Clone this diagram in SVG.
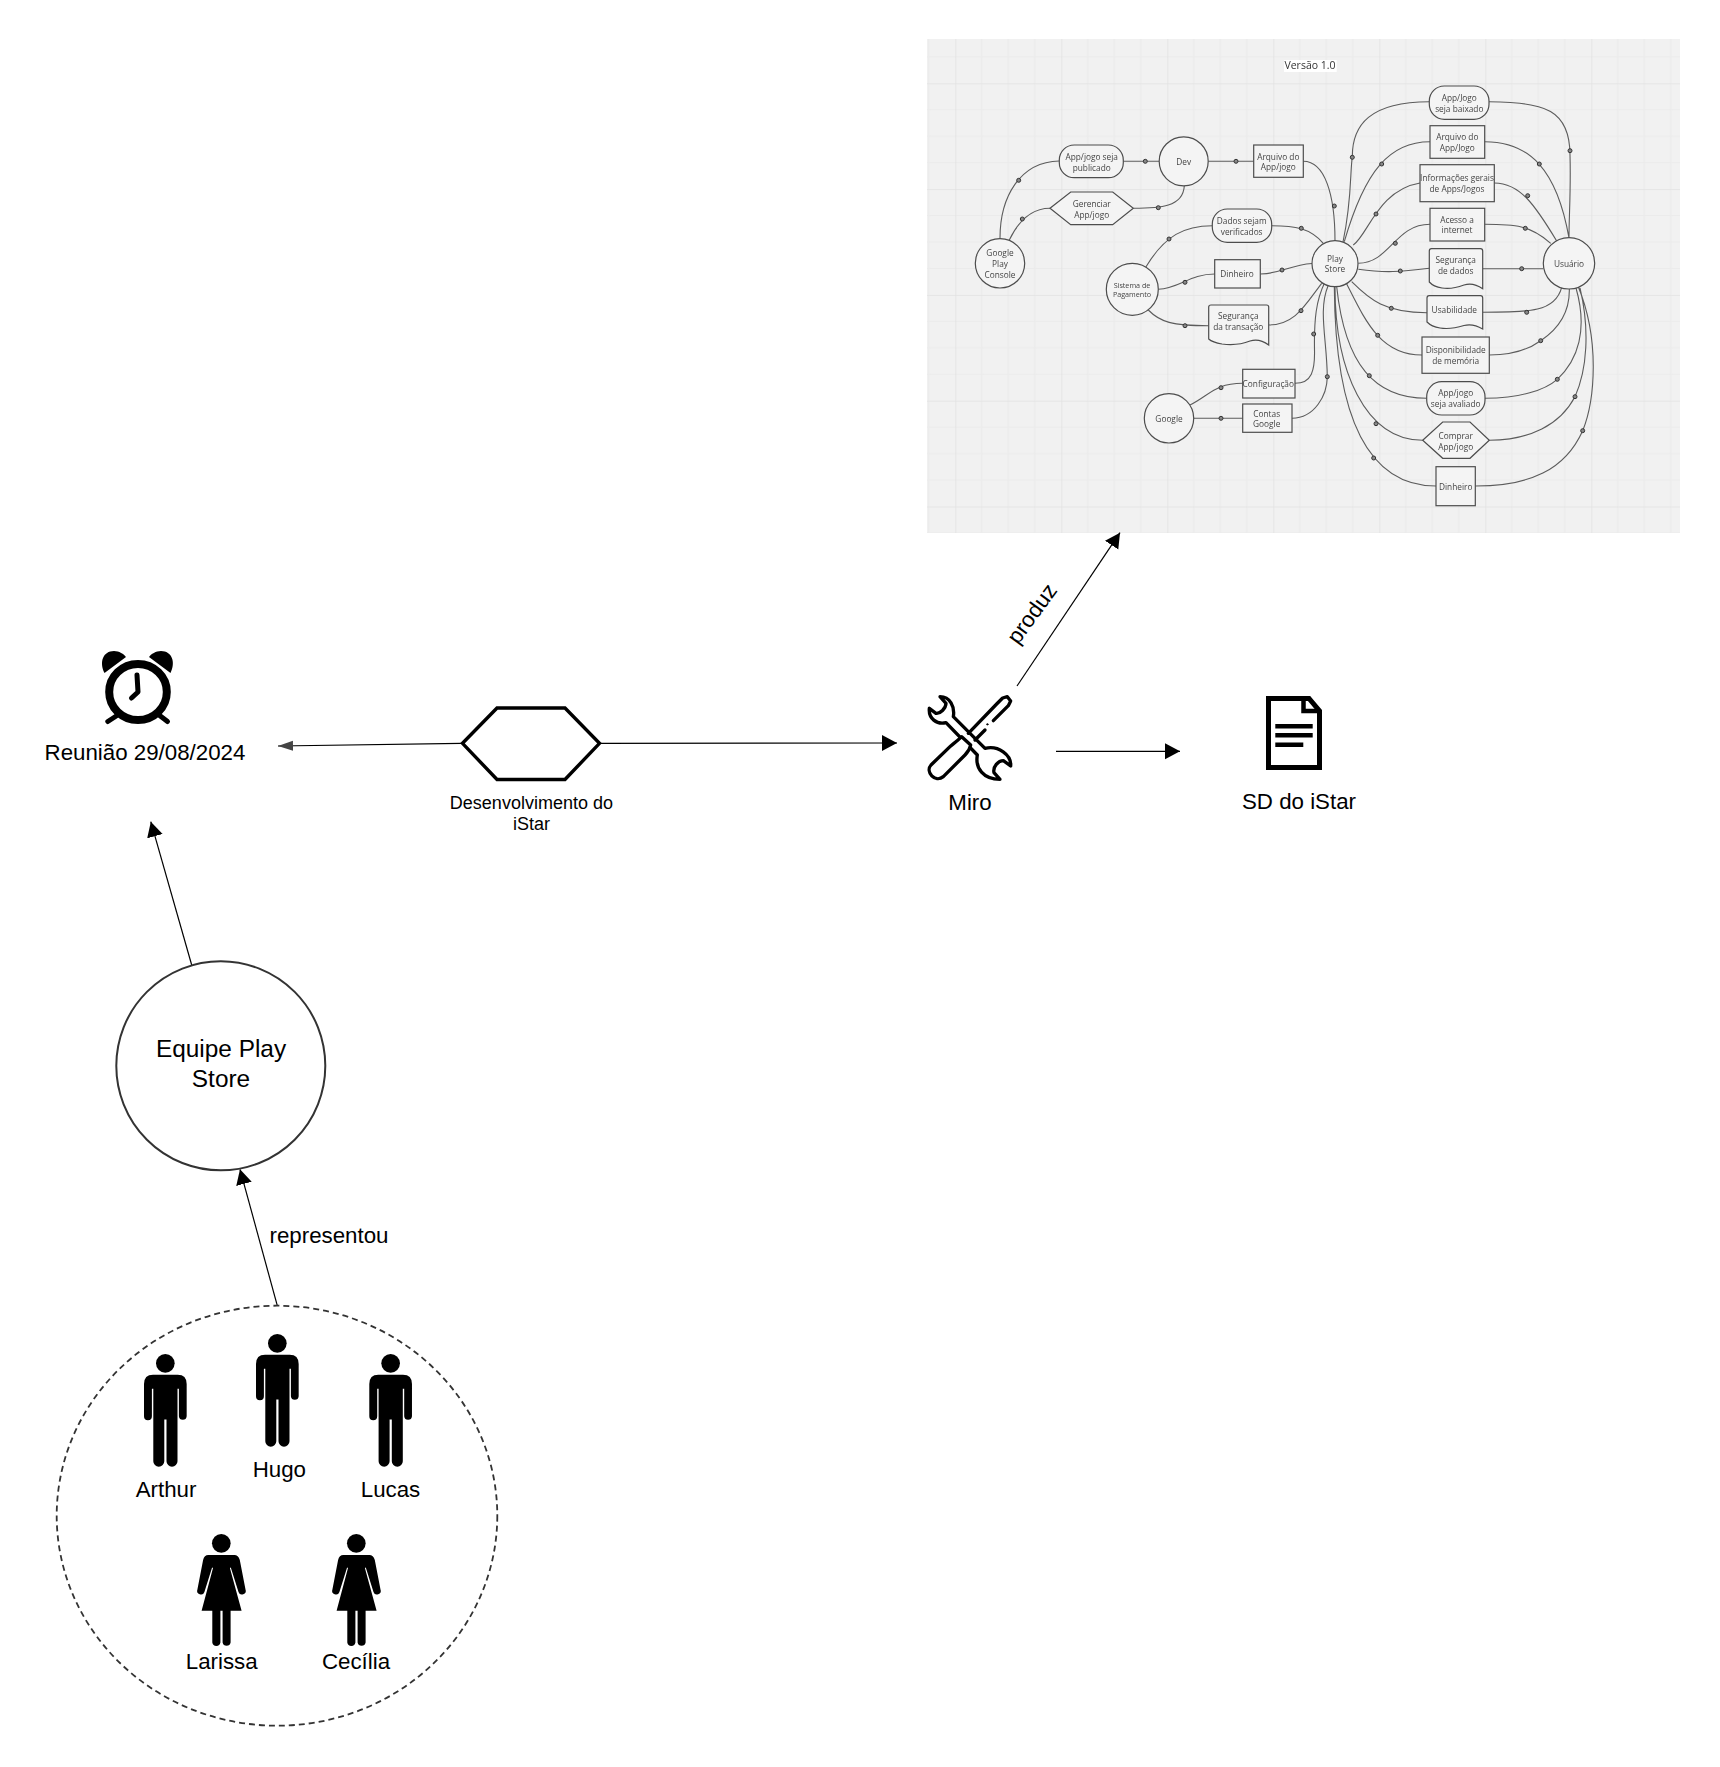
<svg xmlns="http://www.w3.org/2000/svg" width="1720" height="1767" viewBox="0 0 1720 1767">
<style>
.t{font-family:"Liberation Sans",Arial,sans-serif;font-size:22.3px;fill:#000;text-anchor:middle}
.e{stroke:#000;stroke-width:1.2;fill:none}
.p{font-family:"Open Sans","Noto Sans",sans-serif;font-size:8.3px;fill:#444;text-anchor:middle}
.s{fill:#f4f4f4;stroke:#4d4d4d;stroke-width:1.2}
.c{fill:none;stroke:#5c5c5c;stroke-width:1.1}
.d{fill:#888;stroke:#333;stroke-width:1}
</style>
<defs>
<pattern id="grid" patternUnits="userSpaceOnUse" x="1.3" y="-22.5" width="106" height="105.8">
<rect width="106" height="105.8" fill="#f1f1f1"/>
<path d="M26.5 0V105.8M53 0V105.8M79.5 0V105.8M0 26.45H106M0 52.9H106M0 79.35H106" stroke="#ebebeb" stroke-width="1.2" fill="none"/>
<path d="M0 0V105.8M0 0H106" stroke="#e2e2e2" stroke-width="1.6" fill="none"/>
</pattern>
<filter id="soft" x="0" y="0" width="1" height="1"><feGaussianBlur stdDeviation="0.45"/></filter>
<marker id="arrow" markerUnits="userSpaceOnUse" markerWidth="17" markerHeight="17" refX="15" refY="8" orient="auto"><path d="M0 0L15 8L0 16Z" fill="#000"/></marker>
<marker id="arrowgrey" markerUnits="userSpaceOnUse" markerWidth="17" markerHeight="11" refX="15" refY="5" orient="auto"><path d="M0 0L15 5L0 10Z" fill="#444"/></marker>
<g id="man">
<circle cx="21.33" cy="9.33" r="9.33"/>
<path d="M9 20.7H33.7Q42.67 20.7 42.67 30V62.3A3.9 3.9 0 0 1 34.9 62.3V34.7H33.5V107.2A5.5 5.5 0 0 1 22.5 107.2V65.5H20.3V107.2A5.5 5.5 0 0 1 9.3 107.2V34.7H7.9V62.3A3.9 3.9 0 0 1 0 62.3V30Q0 20.7 9 20.7Z"/>
</g>
<g id="woman">
<circle cx="24" cy="9.33" r="9.33"/>
<path d="M11 21H37Q41 21 42.5 26L48.2 55.5A3.6 3.6 0 0 1 41.2 58L33.5 33.5L32.6 34L44.3 76.7H33.3V108.5A4.1 4.1 0 0 1 25.3 108.5V76.7H23.1V108.5A4.1 4.1 0 0 1 15 108.5V76.7H4.3L15.7 34L14.8 33.5L7.1 58A3.6 3.6 0 0 1 .1 55.5L5.8 26Q7 21 11 21Z"/>
</g>
</defs>
<rect width="1720" height="1767" fill="#fff"/>

<g id="panel" filter="url(#soft)">
<rect id="panel-bg" x="927" y="39" width="753" height="494" fill="url(#grid)"/>
<rect x="1284" y="60" width="52.7" height="12" fill="#fff"/>
<text class="p" x="1310" y="69.3" style="font-size:10.5px;fill:#333">Versão 1.0</text>
<g id="panel-connectors">
<path class="c" d="M1000 238.3C1000 197 1020 161.7 1059.3 161M1009.3 240C1020 218 1033 208.3 1050 208.3M1123.3 161.3H1159.3M1133.3 208.3C1160 208.3 1183 207 1184.3 186M1208.3 161.3H1253.7M1303.3 161.3C1325 161.3 1335 195 1335 241"/>
<path class="c" d="M1145.7 267.3C1165 235 1185 225.7 1212.3 225.7M1271.7 225.7C1295 225.7 1310 228 1323.3 243.3M1158.3 289.3C1180 288 1190 274 1214.7 274M1260.3 274C1280 274 1290 265 1312 263.5M1148.3 310C1160 322 1172 325.7 1208.7 325.7M1268.7 325C1295 325 1305 305 1321.7 283.3"/>
<path class="c" d="M1190 405C1210 395 1215 383.3 1242.7 383.3M1193.3 418.3H1242.7M1295 383.3C1312 383.3 1315 370 1314.5 350C1314 320 1316 300 1325 282M1292 418.3C1315 418 1327 395 1327.3 377C1327 340 1318 310 1328 286"/>
<path class="c" d="M1343 242C1352 200 1350 170 1352.3 157.3C1352 125 1370 101.7 1429.3 101.7M1489 101.7C1545 101.7 1570 110 1570 155C1571 190 1569 215 1569 237.7M1344.3 241.7C1365 170 1390 141.7 1430 141.7M1484.7 141.7C1530 141.7 1557 170 1569 238M1353.3 245C1368 235 1378 190 1420 183M1494.3 183C1520 183 1535 205 1556.7 241M1358.3 263.3C1390 263 1395 224.3 1430 224.3M1484.7 224.3C1515 224.3 1530 225 1550.7 243.3M1358.3 269.3C1385 273 1400 272 1429.3 268.3M1482.7 268.7H1543.3"/>
<path class="c" d="M1351.7 281.7C1370 300 1385 312.7 1427 312.7M1482.7 312.3C1530 312.3 1555 312 1561.7 287.3M1346.7 284C1365 320 1380 355 1422 355M1489.3 355C1510 355 1528 350 1540.7 340.7C1560 328 1570 310 1569.3 288.3M1336.7 286.7C1345 365 1375 398.3 1426.7 398.3M1485 398.3C1520 398.3 1545 390 1557.3 379.3C1578 360 1588 330 1576 288M1335 286.7C1335 370 1365 440.3 1422.7 440.3M1489.3 440.3C1530 440 1560 425 1575 396.7C1587 370 1590 330 1580 288M1334.3 286.7C1335 400 1360 486 1436 486M1475.3 486C1530 486 1565 470 1582.7 430.7C1595 400 1600 340 1578.3 286.7"/>
<g class="d">
<circle cx="1018.7" cy="180.3" r="2"/><circle cx="1022.3" cy="219" r="2"/><circle cx="1145.3" cy="161.3" r="2"/><circle cx="1158.3" cy="207.7" r="2"/><circle cx="1236" cy="161.3" r="2"/><circle cx="1334.3" cy="206" r="2"/><circle cx="1169" cy="239" r="2"/><circle cx="1301.3" cy="228.3" r="2"/><circle cx="1185" cy="282.3" r="2"/><circle cx="1282" cy="270" r="2"/><circle cx="1185" cy="325.7" r="2"/><circle cx="1301" cy="310.7" r="2"/><circle cx="1221" cy="387.7" r="2"/><circle cx="1221" cy="418.3" r="2"/><circle cx="1313.7" cy="334" r="2"/><circle cx="1327.3" cy="376.7" r="2"/>
<circle cx="1352.3" cy="157.3" r="2"/><circle cx="1570" cy="150.7" r="2"/><circle cx="1381.7" cy="164" r="2"/><circle cx="1539.3" cy="164" r="2"/><circle cx="1376" cy="214" r="2"/><circle cx="1527.7" cy="195.7" r="2"/><circle cx="1395.3" cy="243.3" r="2"/><circle cx="1525.3" cy="228.3" r="2"/><circle cx="1400.3" cy="271" r="2"/><circle cx="1521.7" cy="268.7" r="2"/><circle cx="1391.3" cy="308.3" r="2"/><circle cx="1526.7" cy="312.3" r="2"/><circle cx="1377.7" cy="335.3" r="2"/><circle cx="1540.7" cy="340.7" r="2"/><circle cx="1369.3" cy="375.7" r="2"/><circle cx="1557.3" cy="379.3" r="2"/><circle cx="1376" cy="423.7" r="2"/><circle cx="1575" cy="396.7" r="2"/><circle cx="1373.7" cy="458" r="2"/><circle cx="1582.7" cy="430.7" r="2"/>
</g>
</g>
<g id="p-console"><circle class="s" cx="1000" cy="263.3" r="24.7"/><text class="p" x="1000" y="255.7">Google</text><text class="p" x="1000" y="266.7">Play</text><text class="p" x="1000" y="277.7">Console</text></g>
<g id="p-publicado"><rect class="s" x="1059.3" y="145" width="64" height="32.7" rx="15"/><text class="p" x="1091.7" y="159.7">App/jogo seja</text><text class="p" x="1091.7" y="170.7">publicado</text></g>
<g id="p-dev"><circle class="s" cx="1183.7" cy="161.3" r="24.5"/><text class="p" x="1183.7" y="165">Dev</text></g>
<g id="p-arquivo1"><rect class="s" x="1253.7" y="145" width="49.6" height="32.3"/><text class="p" x="1278.3" y="159.7">Arquivo do</text><text class="p" x="1278.3" y="170.3">App/jogo</text></g>
<g id="p-gerenciar"><path class="s" d="M1050 208.3L1070.7 192H1112.7L1133.3 208.3L1112.7 224.7H1070.7Z"/><text class="p" x="1091.7" y="206.7">Gerenciar</text><text class="p" x="1091.7" y="217.7">App/jogo</text></g>
<g id="p-dados"><rect class="s" x="1212.3" y="209" width="59.4" height="33.3" rx="15"/><text class="p" x="1241.7" y="224">Dados sejam</text><text class="p" x="1241.7" y="234.7">verificados</text></g>
<g id="p-sistema"><circle class="s" cx="1132.3" cy="289.3" r="26"/><text class="p" x="1132" y="287.7" style="font-size:7.2px">Sistema de</text><text class="p" x="1132" y="297" style="font-size:7.2px">Pagamento</text></g>
<g id="p-dinheiro1"><rect class="s" x="1214.7" y="259.7" width="45.6" height="28.3"/><text class="p" x="1237" y="277.3">Dinheiro</text></g>
<g id="p-segtrans"><path class="s" d="M1208.7 339V307Q1208.7 305 1211 305H1266.5Q1268.7 305 1268.7 307V345C1262 340 1256 339 1250 341C1240 345 1230 345 1222 344C1216 343 1212 342 1208.7 339Z"/><text class="p" x="1238.3" y="319.3">Segurança</text><text class="p" x="1238.3" y="330">da transação</text></g>
<g id="p-google"><circle class="s" cx="1169" cy="418.3" r="24.7"/><text class="p" x="1169" y="422">Google</text></g>
<g id="p-config"><rect class="s" x="1242.7" y="369.3" width="52.3" height="28.7"/><text class="p" x="1268.3" y="387">Configuração</text></g>
<g id="p-contas"><rect class="s" x="1242.7" y="404" width="49.3" height="28.3"/><text class="p" x="1266.7" y="416.7">Contas</text><text class="p" x="1266.7" y="427.3">Google</text></g>
<g id="p-playstore"><circle class="s" cx="1335" cy="263.7" r="23"/><text class="p" x="1335" y="261.7">Play</text><text class="p" x="1335" y="272.3">Store</text></g>
<g id="p-usuario"><circle class="s" cx="1569" cy="263.3" r="25.7"/><text class="p" x="1569" y="266.7">Usuário</text></g>
<g id="p-baixado"><rect class="s" x="1429.3" y="86" width="59.7" height="33.3" rx="15"/><text class="p" x="1459.3" y="101">App/Jogo</text><text class="p" x="1459.3" y="112">seja baixado</text></g>
<g id="p-arquivo2"><rect class="s" x="1430" y="125.7" width="54.7" height="32.6"/><text class="p" x="1457.3" y="140">Arquivo do</text><text class="p" x="1457.3" y="151">App/Jogo</text></g>
<g id="p-info"><rect class="s" x="1420" y="164.7" width="74.3" height="37"/><text class="p" x="1457" y="181">Informações gerais</text><text class="p" x="1457" y="192">de Apps/Jogos</text></g>
<g id="p-acesso"><rect class="s" x="1430" y="208.3" width="54.7" height="32.7"/><text class="p" x="1457" y="222.7">Acesso a</text><text class="p" x="1457" y="233.3">internet</text></g>
<g id="p-segdados"><path class="s" d="M1429.3 282V251Q1429.3 248.7 1431.5 248.7H1480.5Q1482.7 248.7 1482.7 251V288.7C1476 284 1470 283 1464 285C1456 288 1448 289 1442 288C1436 287 1432 285 1429.3 282Z"/><text class="p" x="1455.7" y="263">Segurança</text><text class="p" x="1455.7" y="273.7">de dados</text></g>
<g id="p-usab"><path class="s" d="M1427 322V298Q1427 295.7 1429.2 295.7H1480.5Q1482.7 295.7 1482.7 298V329C1476 325 1470 324 1464 325.5C1456 328 1446 329 1440 328C1434 327 1430 325 1427 322Z"/><text class="p" x="1454.3" y="312.7">Usabilidade</text></g>
<g id="p-dispo"><rect class="s" x="1422" y="337" width="67.3" height="36.3"/><text class="p" x="1455.7" y="353.3">Disponibilidade</text><text class="p" x="1455.7" y="364.3">de memória</text></g>
<g id="p-avaliado"><rect class="s" x="1426.7" y="381.7" width="58.3" height="33.3" rx="15"/><text class="p" x="1455.7" y="396.3">App/jogo</text><text class="p" x="1455.7" y="407.3">seja avaliado</text></g>
<g id="p-comprar"><path class="s" d="M1422.7 440.2L1442.7 422H1470L1489.3 440.2L1470 458.3H1442.7Z"/><text class="p" x="1455.7" y="438.7">Comprar</text><text class="p" x="1455.7" y="449.7">App/jogo</text></g>
<g id="p-dinheiro2"><rect class="s" x="1436" y="466.7" width="39.3" height="39"/><text class="p" x="1455.7" y="490">Dinheiro</text></g>
</g>

<g id="connectors">
<path class="e" d="M461 743.4L278 746" stroke="#333" marker-end="url(#arrowgrey)"/>
<path class="e" d="M601 743.3L897 743" marker-end="url(#arrow)"/>
<path class="e" d="M1017 686L1120 532.7" marker-end="url(#arrow)"/>
<path class="e" d="M1056 751.3H1180" marker-end="url(#arrow)"/>
<path class="e" d="M191.7 965L150.8 821.7" marker-end="url(#arrow)"/>
<path class="e" d="M277.3 1305.7L240 1169.3" marker-end="url(#arrow)"/>
<text class="t" transform="translate(1038 618) rotate(-54)">produz</text>
<text class="t" x="329" y="1242.7">representou</text>
</g>

<g id="reuniao">
<ellipse cx="138" cy="692" rx="28.8" ry="28" fill="none" stroke="#000" stroke-width="8"/>
<path d="M104.5 673C99 662 103 651 114 651C119 651 124 654 126 657ZM170.5 673C176 662 172 651 161 651C156 651 151 654 149 657Z"/>
<path d="M137 675L138 692L131.5 698" fill="none" stroke="#000" stroke-width="5" stroke-linecap="round" stroke-linejoin="round"/>
<path d="M117.8 715L107.8 721.5M159 715L167.5 721.5" fill="none" stroke="#000" stroke-width="5" stroke-linecap="round"/>
<text class="t" x="145" y="760">Reunião 29/08/2024</text>
</g>

<g id="desenvolvimento">
<path d="M462.5 743.3L497 708H565L599.5 743.3L565 779.5H497Z" fill="#fff" stroke="#000" stroke-width="3.4"/>
<text class="t" x="531.4" y="809" style="font-size:18px">Desenvolvimento do</text>
<text class="t" x="531.4" y="830" style="font-size:18px">iStar</text>
</g>

<g id="miro">
<g transform="translate(920 690) scale(.3333)" fill="#fff" stroke="#000" stroke-width="10" stroke-linejoin="round" stroke-linecap="round">
<path d="M100 80C105 50 90 20 60 20L78 40C78 55 60 72 48 70L28 55C25 85 50 105 78 98L172 195C165 235 190 268 240 268L222 248C218 230 235 212 250 212L272 228C275 195 235 165 195 175Z"/>
<path d="M125 140C110 155 95 165 90 170L33 225C15 245 45 280 70 260L135 195C145 185 150 175 152 165Z"/>
<path d="M145 130L230 42L248 24L262 20L272 33L265 47L220 92M195 120L165 150" fill="none"/>
<circle cx="202" cy="103" r="2" fill="#000" stroke-width="3"/>
</g>
<text class="t" x="970" y="810">Miro</text>
</g>

<g id="sd-istar">
<path d="M1268.5 698.5H1309L1319.5 711V767.5H1268.5Z" fill="#fff" stroke="#000" stroke-width="5"/>
<path d="M1303.5 697V711H1320" fill="none" stroke="#000" stroke-width="4.5"/>
<path d="M1275.3 726.3H1312.7M1275.3 735.3H1312.7M1275.3 744.7H1303.3" fill="none" stroke="#000" stroke-width="4.5"/>
<text class="t" x="1299" y="809.3">SD do iStar</text>
</g>

<g id="equipe">
<circle cx="220.8" cy="1065.8" r="104.5" fill="#fff" stroke="#333" stroke-width="2"/>
<text class="t" x="221" y="1057" style="font-size:24.4px">Equipe Play</text>
<text class="t" x="221" y="1087" style="font-size:24.4px">Store</text>
</g>

<g id="grupo">
<ellipse cx="277" cy="1515.7" rx="220.3" ry="210" fill="none" stroke="#333" stroke-width="1.8" stroke-dasharray="6 4"/>
</g>
<g id="arthur"><use href="#man" x="144" y="1354"/><text class="t" x="166" y="1496.7">Arthur</text></g>
<g id="hugo"><use href="#man" x="256" y="1334"/><text class="t" x="279.3" y="1476.7">Hugo</text></g>
<g id="lucas"><use href="#man" x="369.3" y="1354"/><text class="t" x="390.5" y="1496.7">Lucas</text></g>
<g id="larissa"><use href="#woman" x="197.3" y="1534"/><text class="t" x="221.7" y="1669">Larissa</text></g>
<g id="cecilia"><use href="#woman" x="332.3" y="1534"/><text class="t" x="356" y="1669">Cecília</text></g>
</svg>
